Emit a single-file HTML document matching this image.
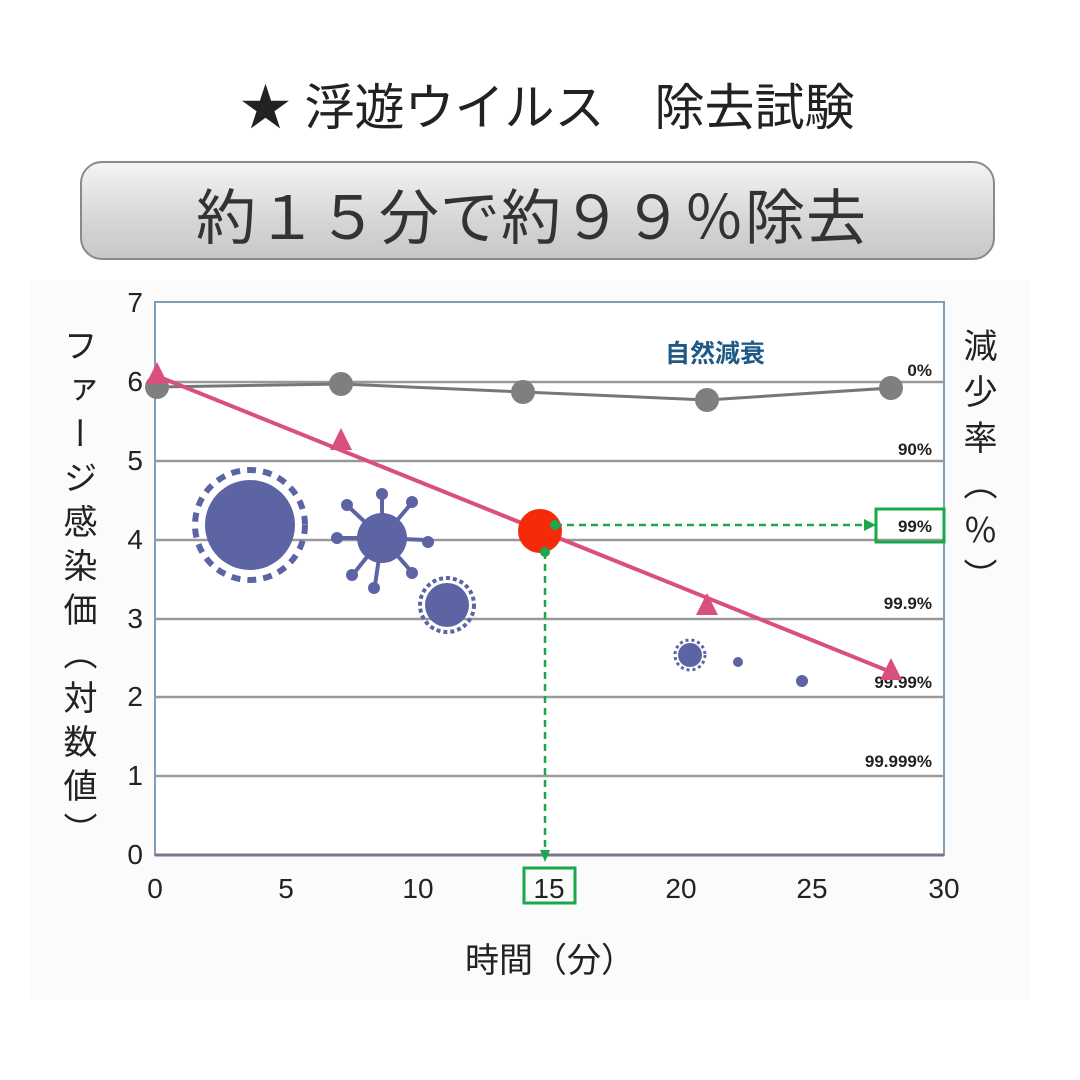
<!DOCTYPE html>
<html><head><meta charset="utf-8"><style>
body{margin:0;width:1080px;height:1080px;background:#fff;font-family:"Liberation Sans","Noto Sans CJK JP",sans-serif;position:relative;overflow:hidden}
.t{position:absolute;white-space:nowrap}
.v{position:absolute;writing-mode:vertical-rl;font-family:"Noto Sans CJK JP",sans-serif;color:#222;white-space:nowrap}
</style></head><body>
<div class="t" style="left:0;width:1095px;top:68px;text-align:center;font-size:50px;color:#222">★ 浮遊ウイルス　除去試験</div>
<div style="position:absolute;left:80px;top:161px;width:911px;height:95px;border:2px solid #8a8a8a;border-radius:22px;background:linear-gradient(#f4f4f4,#d6d6d6 60%,#c8c8c8)"></div>
<div class="t" style="left:74px;width:915px;top:170px;text-align:center;font-size:60px;color:#333;letter-spacing:1px">約１５分で約９９％除去</div>
<div style="position:absolute;left:30px;top:280px;width:1000px;height:720px;background:#fbfbfb"></div>
<div class="v" style="left:60px;top:328px;font-size:34px;letter-spacing:10px;line-height:40px">ファージ感染価（対数値）</div>
<div class="v" style="left:960px;top:328px;font-size:34px;letter-spacing:12px;line-height:40px">減少率（<span style="text-orientation:upright">%</span>）</div>
<svg width="1080" height="1080" style="position:absolute;left:0;top:0" font-family="Liberation Sans, Noto Sans CJK JP, sans-serif">
<rect x="155" y="302" width="789" height="553" fill="#fff" stroke="#7f9fb8" stroke-width="2"/>
<g stroke="#999" stroke-width="2.5">
<line x1="155" y1="382" x2="944" y2="382"/><line x1="155" y1="461" x2="944" y2="461"/>
<line x1="155" y1="540" x2="944" y2="540"/><line x1="155" y1="619" x2="944" y2="619"/>
<line x1="155" y1="697" x2="944" y2="697"/><line x1="155" y1="776" x2="944" y2="776"/>
</g>
<line x1="155" y1="855" x2="944" y2="855" stroke="#778" stroke-width="3"/>
<g font-size="28" fill="#222" text-anchor="end">
<text x="143" y="312">7</text><text x="143" y="391">6</text><text x="143" y="470">5</text><text x="143" y="549">4</text><text x="143" y="628">3</text><text x="143" y="706">2</text><text x="143" y="785">1</text><text x="143" y="864">0</text>
</g>
<g font-size="28" fill="#222" text-anchor="middle">
<text x="155" y="898">0</text><text x="286" y="898">5</text><text x="418" y="898">10</text><text x="549" y="898">15</text><text x="681" y="898">20</text><text x="812" y="898">25</text><text x="944" y="898">30</text>
</g>
<rect x="524" y="868" width="51" height="35" fill="none" stroke="#1aa84a" stroke-width="3"/>
<g font-size="17" fill="#222" text-anchor="end" font-weight="bold">
<text x="932" y="376">0%</text><text x="932" y="455">90%</text><text x="932" y="532">99%</text><text x="932" y="609">99.9%</text><text x="932" y="688">99.99%</text><text x="932" y="767">99.999%</text>
</g>
<rect x="876" y="509" width="68" height="33" fill="none" stroke="#1aa84a" stroke-width="3"/>
<text x="665" y="362" font-size="25" fill="#1f5a86" font-weight="bold">自然減衰</text>
<polyline points="157,387 341,384 523,392 707,400 891,388" fill="none" stroke="#777" stroke-width="3"/>
<g fill="#7f7f7f"><circle cx="157" cy="387" r="12"/><circle cx="341" cy="384" r="12"/><circle cx="523" cy="392" r="12"/><circle cx="707" cy="400" r="12"/><circle cx="891" cy="388" r="12"/></g>
<line x1="157" y1="376" x2="891" y2="672" stroke="#d9507f" stroke-width="4"/>
<g fill="#d9507f"><polygon points="157,362 146,384 168,384"/><polygon points="341,428 330,450 352,450"/><polygon points="707,593 696,615 718,615"/><polygon points="891,658 880,680 902,680"/></g>
<g fill="#5c64a3">
<circle cx="250" cy="525" r="45"/><circle cx="250" cy="525" r="55" fill="none" stroke="#5c64a3" stroke-width="6" stroke-dasharray="9 7"/>
<circle cx="382" cy="538" r="25"/>
<g stroke="#5c64a3" stroke-width="4"><line x1="382" y1="538" x2="382" y2="495"/><line x1="382" y1="538" x2="425" y2="540"/><line x1="382" y1="538" x2="340" y2="538"/><line x1="382" y1="538" x2="410" y2="570"/><line x1="382" y1="538" x2="355" y2="572"/><line x1="382" y1="538" x2="375" y2="585"/><line x1="382" y1="538" x2="410" y2="505"/><line x1="382" y1="538" x2="350" y2="508"/></g>
<circle cx="382" cy="494" r="6"/><circle cx="428" cy="542" r="6"/><circle cx="337" cy="538" r="6"/><circle cx="412" cy="573" r="6"/><circle cx="352" cy="575" r="6"/><circle cx="374" cy="588" r="6"/><circle cx="412" cy="502" r="6"/><circle cx="347" cy="505" r="6"/>
<circle cx="447" cy="605" r="22"/><circle cx="447" cy="605" r="27" fill="none" stroke="#5c64a3" stroke-width="4" stroke-dasharray="4 3"/>
<circle cx="690" cy="655" r="12"/><circle cx="690" cy="655" r="15" fill="none" stroke="#5c64a3" stroke-width="3" stroke-dasharray="3 3"/>
<circle cx="738" cy="662" r="5"/><circle cx="802" cy="681" r="6"/>
</g>
<circle cx="540" cy="531" r="22" fill="#f42a0a"/>
<g stroke="#1aa84a" stroke-width="2.5" stroke-dasharray="7 5" fill="none"><line x1="555" y1="525" x2="866" y2="525"/><line x1="545" y1="552" x2="545" y2="850"/></g>
<g fill="#1aa84a"><circle cx="555" cy="525" r="5"/><circle cx="545" cy="552" r="5"/><polygon points="876,525 864,519 864,531"/><polygon points="545,862 540,850 550,850"/></g>
<text x="550" y="972" font-size="34" fill="#222" text-anchor="middle">時間（分）</text>
</svg>
</body></html>
